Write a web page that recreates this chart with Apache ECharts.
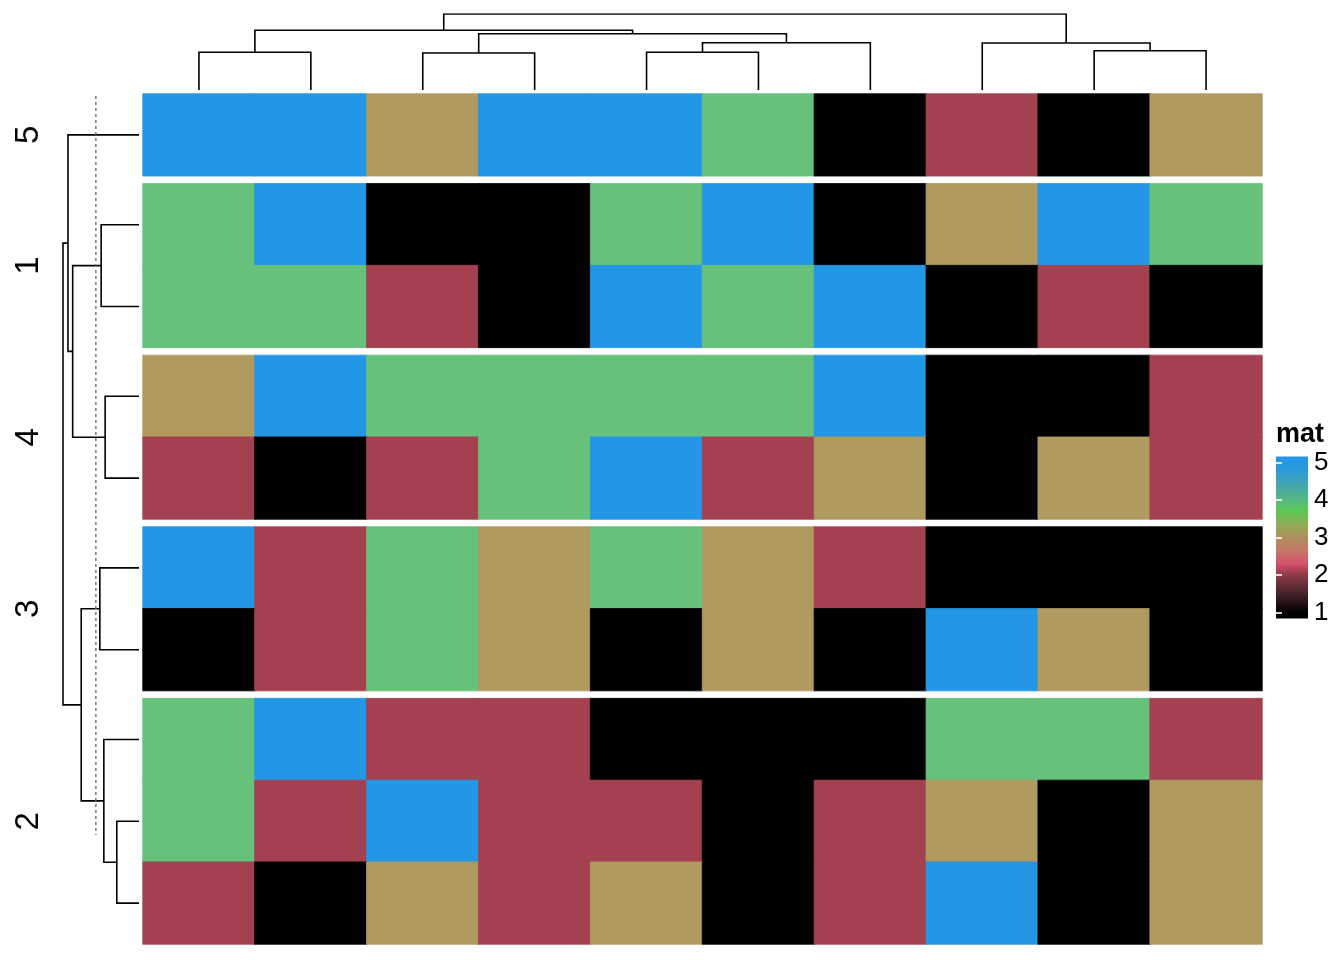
<!DOCTYPE html>
<html>
<head>
<meta charset="utf-8">
<script src="https://cdn.jsdelivr.net/npm/echarts@6/dist/echarts.min.js"></script>
<style>html,body{margin:0;padding:0;background:#fff}#main{width:1344px;height:960px}</style>
</head>
<body>
<div id="main"></div>
<script>
// ---------------- DATA ----------------
const columnIds = ['c1','c2','c3','c4','c5','c6','c7','c8','c9','c10'];
const sliceNames = ['5','1','4','3','2'];
const rowsSlice5 = [[5,5,3,5,5,4,1,2,1,3]];
const rowsSlice1 = [[4,5,1,1,4,5,1,3,5,4],[4,4,2,1,5,4,5,1,2,1]];
const rowsSlice4 = [[3,5,4,4,4,4,5,1,1,2],[2,1,2,4,5,2,3,1,3,2]];
const rowsSlice3 = [[5,2,4,3,4,3,2,1,1,1],[1,2,4,3,1,3,1,5,3,1]];
const rowsSlice2 = [[4,5,2,2,1,1,1,4,4,2],[4,2,5,2,2,1,2,3,1,3],[2,1,3,2,3,1,2,5,1,3]];
// hclust-style merges: [a, b, height]; negative = leaf, positive = earlier merge
const colMerges = [[-1,-2,3.77],[-3,-4,3.70],[-5,-6,3.77],[3,-7,4.73],[2,4,5.63],[1,5,5.97],[-9,-10,3.93],[-8,7,4.70],[6,8,7.60]];
const dendSlice5 = [];
const dendSlice1 = [[-1,-2,3.80]];
const dendSlice4 = [[-1,-2,3.40]];
const dendSlice3 = [[-1,-2,3.93]];
const dendSlice2 = [[-2,-3,2.23],[-1,1,3.53]];
const dendSlices = [[-2,-3,6.66],[-1,1,7.13],[-4,-5,5.80],[2,3,7.63]];
const rowCutHeight = 4.33;
const legendTicks = [1,2,3,4,5];

// ---------------- STYLE / LAYOUT ----------------
const cellColors = ['#000000','#A34150','#B19A5F','#66C27B','#2396E5'];
const legendGradient = [[1.0,'#000000'],[1.3,'#2A1519'],[1.65,'#5A2A32'],[2.0,'#8E3A48'],[2.3,'#D5506C'],[2.6,'#C87466'],[3.0,'#B0905F'],[3.35,'#90AC55'],[3.72,'#5CC954'],[4.0,'#54B880'],[4.4,'#44A6AE'],[4.75,'#2F9BD4'],[5.0,'#2396E5']];
const slicesRows = [rowsSlice5, rowsSlice1, rowsSlice4, rowsSlice3, rowsSlice2];
const sliceDends = [dendSlice5, dendSlice1, dendSlice4, dendSlice3, dendSlice2];
const FONT = 'Liberation Sans, Arial, Helvetica, sans-serif';
const heatLeft = 143, heatRight = 1262, heatTop = 94, heatBottom = 944, gapPx = 8;
const nRows = slicesRows.reduce((s, r) => s + r.length, 0);
const rowH = (heatBottom - heatTop - gapPx * (slicesRows.length - 1)) / nRows;
const gapUnits = gapPx / rowH;
const totalUnits = nRows + gapUnits * (slicesRows.length - 1);
const dendSize = 76, dendGap = 4;
const cutExtentPx = [96, 835];
const legLeft = 1276, legWidth = 32, legTop = 462.5, legHeight = 150, legPad = 6;
const valueColor = v => cellColors[Math.round(v) - 1];

// ---------------- BUILD ----------------
function dendro(merges, leafPos, leafH) {
  const nodes = [], segs = [];
  const get = k => k < 0 ? {pos: leafPos[-k - 1], h: leafH ? leafH[-k - 1] : 0} : nodes[k - 1];
  merges.forEach(([a, b, h]) => {
    const A = get(a), B = get(b);
    segs.push([[A.pos, A.h], [A.pos, h], [B.pos, h], [B.pos, B.h]]);
    nodes.push({pos: (A.pos + B.pos) / 2, h});
  });
  return {segs, root: nodes.length ? nodes[nodes.length - 1] : get(-1)};
}

const grids = [], xAxes = [], yAxes = [], series = [];
let rowCursor = 0;
const sliceRoots = [];
let rowSegs = [];
slicesRows.forEach((rows, s) => {
  const gTopPx = heatTop + rowCursor * rowH + s * gapPx;
  grids.push({left: heatLeft, top: gTopPx, width: heatRight - heatLeft, height: rows.length * rowH});
  xAxes.push({type: 'category', gridIndex: s, data: columnIds, show: false});
  yAxes.push({type: 'category', gridIndex: s, data: rows.map((_, i) => i), inverse: true,
    axisLine: {show: false}, axisTick: {show: false}, axisLabel: {show: false}, splitLine: {show: false},
    name: sliceNames[s], nameLocation: 'middle', nameRotate: 90, nameGap: 98,
    nameTextStyle: {fontSize: 33, color: '#000', fontFamily: FONT}});
  const data = [];
  rows.forEach((row, r) => row.forEach((v, c) => data.push({value: [c, r, v],
    itemStyle: {color: valueColor(v), borderColor: valueColor(v), borderWidth: 0.8}})));
  series.push({type: 'heatmap', xAxisIndex: s, yAxisIndex: s, data: data, silent: true});
  const leafPos = rows.map((_, i) => rowCursor + i + 0.5 + s * gapUnits);
  const d = dendro(sliceDends[s], leafPos);
  rowSegs = rowSegs.concat(d.segs);
  sliceRoots.push(d.root);
  rowCursor += rows.length;
});
const sliceTree = dendro(dendSlices, sliceRoots.map(r => r.pos), sliceRoots.map(r => r.h));
rowSegs = rowSegs.concat(sliceTree.segs);

// top column dendrogram
const gTop = grids.length;
grids.push({left: heatLeft, width: heatRight - heatLeft, top: heatTop - dendGap - dendSize, height: dendSize});
xAxes.push({type: 'value', gridIndex: gTop, min: 0, max: columnIds.length, show: false});
yAxes.push({type: 'value', gridIndex: gTop, min: 0, max: colMerges[colMerges.length - 1][2], show: false});
const colD = dendro(colMerges, columnIds.map((_, i) => i + 0.5));
series.push({type: 'lines', coordinateSystem: 'cartesian2d', xAxisIndex: gTop, yAxisIndex: gTop, polyline: true, silent: true,
  lineStyle: {color: '#000', width: 1.6, opacity: 1}, data: colD.segs.map(c => ({coords: c}))});

// left row dendrogram
const gLeft = grids.length;
const rowMax = dendSlices[dendSlices.length - 1][2];
grids.push({left: heatLeft - dendGap - dendSize, width: dendSize, top: heatTop, height: heatBottom - heatTop});
xAxes.push({type: 'value', gridIndex: gLeft, min: 0, max: rowMax, inverse: true, show: false});
yAxes.push({type: 'value', gridIndex: gLeft, min: 0, max: totalUnits, inverse: true, show: false});
series.push({type: 'lines', coordinateSystem: 'cartesian2d', xAxisIndex: gLeft, yAxisIndex: gLeft, polyline: true, silent: true,
  lineStyle: {color: '#000', width: 1.6, opacity: 1}, data: rowSegs.map(c => ({coords: c.map(p => [p[1], p[0]])}))});
const pxToUnits = y => (y - heatTop) / (heatBottom - heatTop) * totalUnits;
series.push({type: 'lines', coordinateSystem: 'cartesian2d', xAxisIndex: gLeft, yAxisIndex: gLeft, polyline: true, silent: true,
  lineStyle: {color: '#6e6e6e', width: 1.4, opacity: 1, type: [3, 3]},
  data: [{coords: [[rowCutHeight, pxToUnits(cutExtentPx[0])], [rowCutHeight, pxToUnits(cutExtentPx[1])]]}]});

// legend grid
const gLeg = grids.length;
grids.push({left: legLeft, width: legWidth, top: legTop, height: legHeight});
xAxes.push({type: 'value', gridIndex: gLeg, min: 0, max: 1, show: false});
const legAxisBase = {type: 'value', gridIndex: gLeg, min: legendTicks[0], max: legendTicks[legendTicks.length - 1], interval: 1, z: 10,
  axisLine: {show: false}, splitLine: {show: false},
  axisTick: {show: true, inside: true, length: 6, lineStyle: {color: '#fff', width: 1.6}}};
yAxes.push(Object.assign({}, legAxisBase, {position: 'right',
  axisLabel: {show: true, margin: 6, fontSize: 26, color: '#000', fontFamily: FONT}}));
yAxes.push(Object.assign({}, legAxisBase, {position: 'left', axisLabel: {show: false}}));

const vMin = legendTicks[0], vMax = legendTicks[legendTicks.length - 1];
const unitPx = legHeight / (vMax - vMin);
const vTop = vMax + legPad / unitPx, vBot = vMin - legPad / unitPx;
const stops = [{offset: 0, color: legendGradient[legendGradient.length - 1][1]}]
  .concat(legendGradient.slice().reverse().map(([v, c]) => ({offset: (vTop - v) / (vTop - vBot), color: c})))
  .concat([{offset: 1, color: legendGradient[0][1]}]);

const option = {
  animation: false,
  backgroundColor: '#fff',
  title: {text: 'mat', left: legLeft, top: 421, padding: 0,
    textStyle: {fontSize: 27, fontWeight: 'bold', color: '#000', fontFamily: FONT}},
  grid: grids, xAxis: xAxes, yAxis: yAxes,
  graphic: [{type: 'rect', z: 1, silent: true,
    shape: {x: legLeft, y: legTop - legPad, width: legWidth, height: legHeight + 2 * legPad},
    style: {fill: {type: 'linear', x: 0, y: 0, x2: 0, y2: 1, colorStops: stops}}}],
  series: series
};
const chart = echarts.init(document.getElementById('main'), null, {renderer: 'canvas'});
chart.setOption(option);
</script>
</body>
</html>
